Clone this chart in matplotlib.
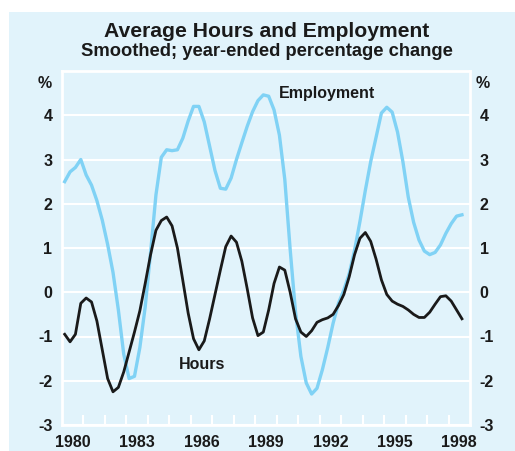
import numpy as np
import matplotlib
matplotlib.use('Agg')
import matplotlib.pyplot as plt
from matplotlib.patches import Rectangle

plt.rcParams['font.family'] = ['Liberation Sans', 'DejaVu Sans']
plt.rcParams['font.weight'] = 'bold'

# quarterly, plotted at mid-quarter, 1980 Q1 .. 1998 Q3
quarters = 1980.125 + 0.25 * np.arange(75)

employment = [
    2.50, 2.72, 2.82, 3.00, 2.65, 2.42, 2.07, 1.63, 1.08, 0.45,
    -0.40, -1.40, -1.95, -1.90, -1.25, -0.33, 0.90, 2.20, 3.05, 3.22,
    3.20, 3.22, 3.48, 3.87, 4.20, 4.20, 3.85, 3.30, 2.75, 2.35,
    2.33, 2.58, 3.00, 3.38, 3.75, 4.08, 4.33, 4.46, 4.43, 4.12,
    3.55, 2.55, 0.97, -0.45, -1.45, -2.05, -2.30, -2.17, -1.75, -1.25,
    -0.70, -0.25, 0.05, 0.42, 0.95, 1.60, 2.30, 2.95, 3.50, 4.05,
    4.18, 4.07, 3.62, 2.95, 2.15, 1.58, 1.18, 0.93, 0.85, 0.90,
    1.07, 1.33, 1.55, 1.72, 1.75,
]

hours = [
    -0.95, -1.12, -0.95, -0.25, -0.13, -0.22, -0.65, -1.30, -1.95, -2.25,
    -2.15, -1.80, -1.35, -0.90, -0.42, 0.20, 0.85, 1.40, 1.62, 1.70,
    1.50, 1.00, 0.27, -0.47, -1.05, -1.30, -1.10, -0.60, -0.05, 0.50,
    1.03, 1.27, 1.13, 0.70, 0.08, -0.58, -0.98, -0.90, -0.40, 0.20,
    0.57, 0.50, 0.00, -0.60, -0.90, -1.00, -0.87, -0.68, -0.62, -0.58,
    -0.50, -0.30, -0.05, 0.35, 0.85, 1.22, 1.35, 1.15, 0.75, 0.28,
    -0.05, -0.20, -0.27, -0.32, -0.40, -0.50, -0.57, -0.57, -0.45, -0.27,
    -0.10, -0.08, -0.20, -0.40, -0.60,
]

year_labels = ['1980', '1983', '1986', '1989', '1992', '1995', '1998']
y_ticks = [-3, -2, -1, 0, 1, 2, 3, 4]

bg = '#E1F3FB'
blue = '#80D2F5'
ink = '#1a1a1a'

fig = plt.figure(figsize=(5.15, 4.51), dpi=100)
fig.patch.set_facecolor('white')
fig.patches.append(Rectangle((9 / 515, 0), 1 - 9 / 515, 1 - 12 / 451,
                             transform=fig.transFigure, facecolor=bg,
                             edgecolor='none', zorder=-10))

ax = fig.add_axes([62 / 515, 26 / 451, 408 / 515, 354 / 451])
ax.set_facecolor(bg)

ax.plot(quarters, employment, color=blue, lw=2.4, zorder=3)
ax.plot(quarters, hours, color=ink, lw=2.0, zorder=4)

ax.set_xlim(1980, 1999)
ax.set_ylim(-3, 5)

# year labels centred mid-year, white year ticks pointing in
ax.set_xticks([int(y) + 0.5 for y in year_labels])
ax.set_xticklabels(year_labels, fontsize=11.5, fontweight='bold')
ax.set_xticks(np.arange(1981, 1999), minor=True)
ax.tick_params(axis='x', which='major', length=0, pad=7, colors=ink)
ax.tick_params(axis='x', which='minor', direction='in', length=7,
               width=1.5, color='white')

ax.set_yticks(y_ticks)
ax.set_yticklabels([str(v) for v in y_ticks], fontsize=11.5, fontweight='bold')
ax.tick_params(axis='y', length=0, pad=7, labelleft=True, labelright=True,
               colors=ink)

ax.grid(axis='y', color='white', lw=1.5, zorder=1)
for s in ax.spines.values():
    s.set_color('white')
    s.set_linewidth(2)

ax.text(-0.025, 0.965, '%', transform=ax.transAxes, ha='right', va='center',
        fontsize=11.5, fontweight='bold', color=ink)
ax.text(1.013, 0.965, '%', transform=ax.transAxes, ha='left', va='center',
        fontsize=11.5, fontweight='bold', color=ink)

ax.text(1990.08, 4.49, 'Employment', ha='left', va='center', fontsize=11.5,
        fontweight='bold', color=ink)
ax.text(1986.5, -1.63, 'Hours', ha='center', va='center', fontsize=11.5,
        fontweight='bold', color=ink)

fig.text(0.518, 0.931, 'Average Hours and Employment', ha='center',
         va='center', fontsize=15.2, fontweight='bold', color=ink)
fig.text(0.518, 0.886, 'Smoothed; year-ended percentage change', ha='center',
         va='center', fontsize=13.2, fontweight='bold', color=ink)

fig.savefig('out.png', dpi=100, facecolor=fig.get_facecolor())
